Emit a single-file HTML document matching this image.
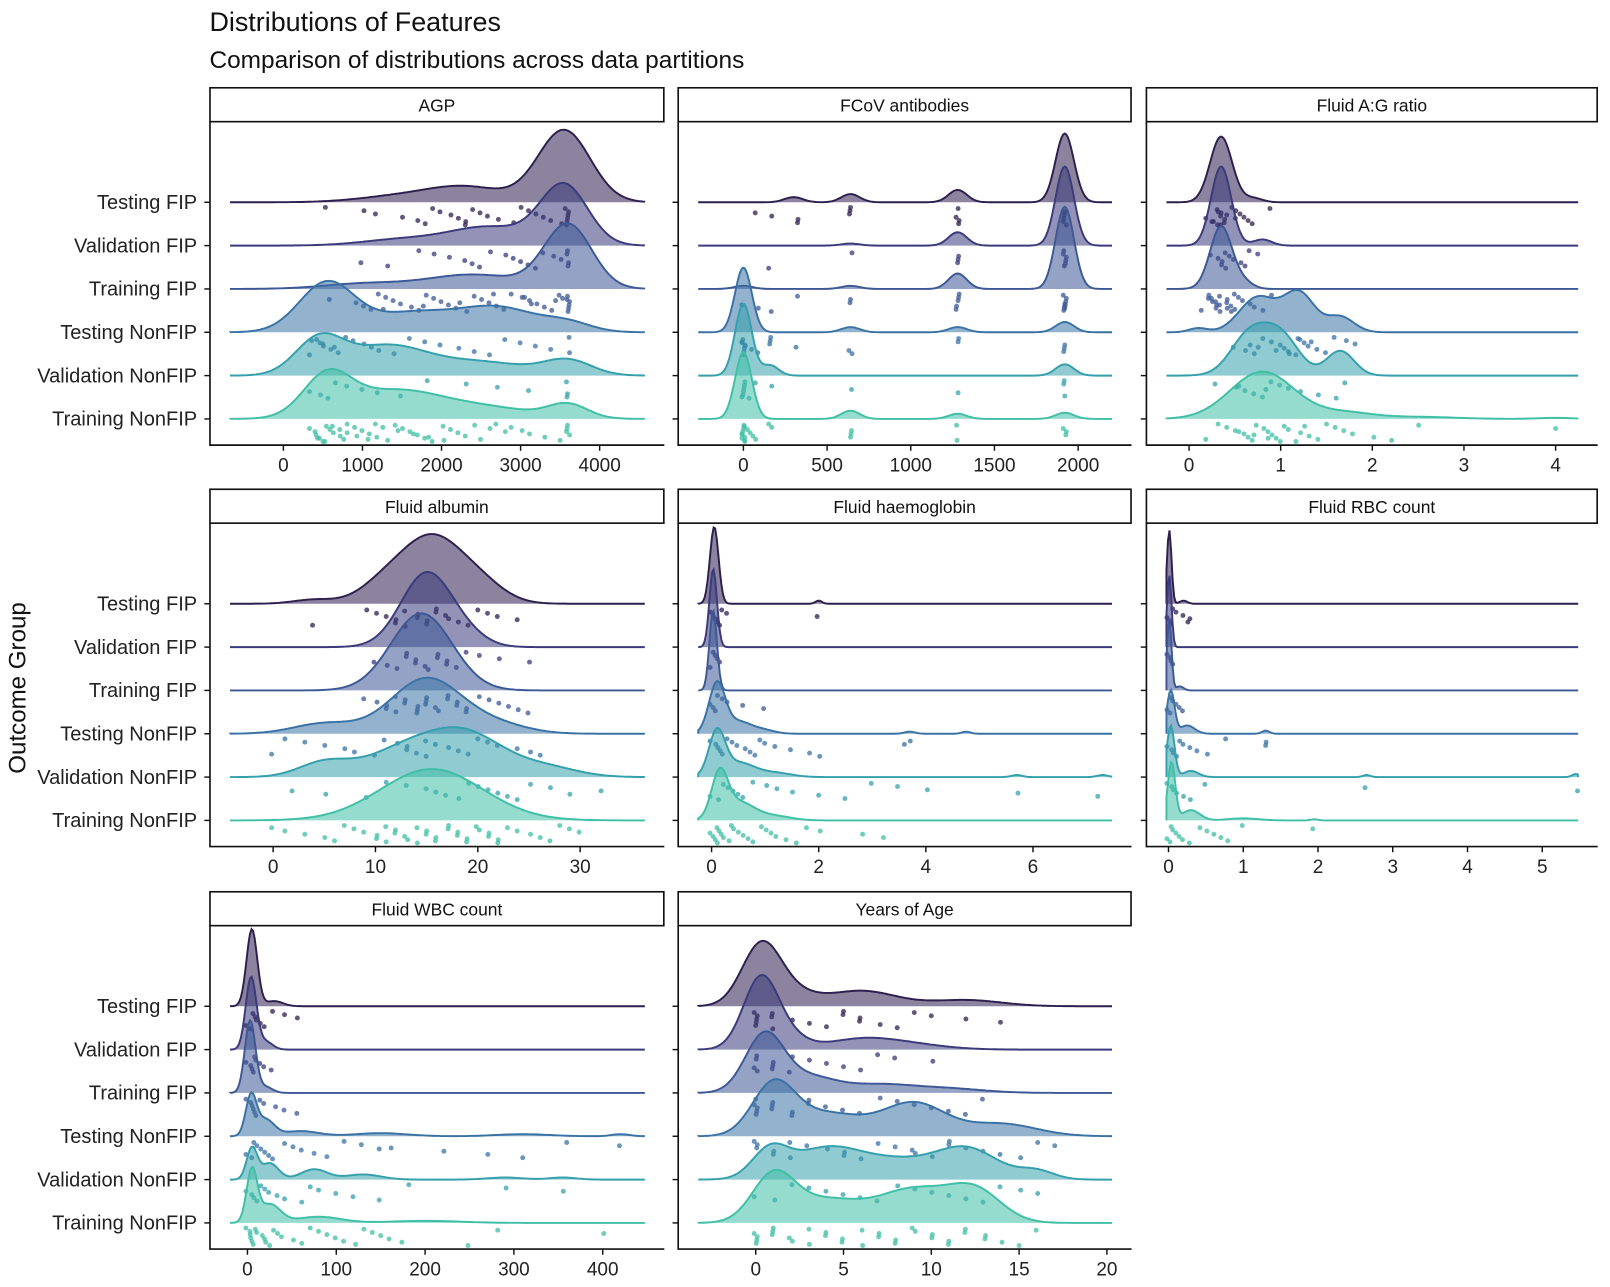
<!DOCTYPE html>
<html><head><meta charset="utf-8"><style>
body{margin:0;background:#fff}
svg text{font-family:"Liberation Sans",Arial,sans-serif}
</style></head><body>
<svg width="1610" height="1282" xmlns="http://www.w3.org/2000/svg">
<g id="chart" transform="scale(1.0268)">
<text x="204" y="30" font-size="26.2" fill="#111">Distributions of Features</text>
<text x="204" y="66" font-size="23.8" fill="#111">Comparison of distributions across data partitions</text>
<text transform="translate(25,670) rotate(-90)" text-anchor="middle" font-size="23.5" fill="#111">Outcome Group</text>
</g>
</svg>
<script>
const groups = ["Testing FIP","Validation FIP","Training FIP","Testing NonFIP","Validation NonFIP","Training NonFIP"];
const features = ["AGP","FCoV antibodies","Fluid A:G ratio","Fluid albumin","Fluid haemoglobin","Fluid RBC count","Fluid WBC count","Years of Age"];
const tickValues = [[0,1000,2000,3000,4000],[0,500,1000,1500,2000],[0,1,2,3,4],[0,10,20,30],[0,2,4,6],[0,1,2,3,4,5],[0,100,200,300,400],[0,5,10,15,20]];
// density components per feature per group: [center, sd, relative height]
const densAGP = [[[3550,330,70],[2300,500,15],[1400,500,5]],[[3550,300,58],[2600,500,18],[1500,500,6]],[[3600,300,62],[2400,600,14],[1000,500,5]],[[550,350,48],[1600,500,18],[2700,500,24],[3600,300,8]],[[450,300,34],[1300,500,28],[2500,600,13],[3600,300,14]],[[550,300,38],[1400,600,27],[2600,600,10],[3600,250,13]]];
const densFCoV = [[[1920,55,67],[1280,55,12],[640,55,8],[300,55,5]],[[1920,55,77],[1280,55,13],[640,55,2]],[[1920,55,80],[1280,55,15],[640,55,3],[0,55,3]],[[0,50,63],[640,55,5],[1280,55,5],[1920,55,10]],[[0,50,70],[160,50,10],[1920,55,11]],[[0,50,65],[640,55,8],[1280,55,5],[1920,55,6]]];
const densAG = [[[0.35,0.12,64],[0.7,0.1,4]],[[0.35,0.11,77],[0.8,0.1,6]],[[0.35,0.12,61],[0.6,0.1,6]],[[0.75,0.2,34],[1.2,0.17,38],[1.65,0.15,15],[0.1,0.1,4]],[[0.65,0.2,38],[1.0,0.2,38],[1.65,0.15,24]],[[0.8,0.35,46],[1.7,0.3,6],[2.5,0.4,2],[4,0.2,1]]];
const densAlb = [[[15.5,2.8,60],[11,2.5,20],[20,2.5,20],[4,2,4]],[[15,2.5,72],[19,2,8]],[[14.5,3,75]],[[15,3.5,54],[5,3,10],[22,3,8]],[[18.5,4,44],[12,3.5,20],[5,2.5,14],[27,3,8]],[[15.5,5,50]]];
const densHb = [[[0.05,0.08,75],[2,0.06,3]],[[0.03,0.07,76]],[[0.03,0.07,78]],[[0.1,0.15,48],[0.5,0.25,12],[1.0,0.2,3],[3.7,0.1,2],[4.75,0.08,2]],[[0.1,0.15,42],[0.5,0.3,14],[1.2,0.3,4],[5.7,0.1,2],[7.3,0.1,2]],[[0.15,0.15,42],[0.5,0.3,18],[1.2,0.3,4]]];
const densRBC = [[[0.01,0.03,72],[0.2,0.05,3]],[[0.01,0.03,70]],[[0.01,0.03,70],[0.15,0.05,4]],[[0.03,0.05,42],[0.25,0.1,8],[1.3,0.05,3]],[[0.03,0.05,50],[0.3,0.1,6],[2.65,0.05,2],[5.45,0.05,3]],[[0.04,0.05,56],[0.3,0.12,10],[1.0,0.2,2],[1.95,0.05,1]]];
const densWBC = [[[5,6,75],[30,10,5]],[[4,6,70],[20,8,8]],[[3,6,70],[20,8,6]],[[4,6,38],[20,10,16],[60,20,5],[150,30,3],[310,30,2],[420,10,2]],[[5,6,30],[25,10,16],[75,15,10],[130,20,5],[290,20,2],[355,15,2]],[[5,6,50],[25,12,18],[80,25,6],[200,40,2]]];
const densAge = [[[0.3,1.1,58],[2,1.3,12],[6,2,15],[12,2,6]],[[0.3,1.0,70],[2,1,10],[6,2,10],[9,2,4]],[[0.5,1.1,56],[3,1.5,15],[7,2,8],[11,2,4]],[[1,1.2,48],[4,2,22],[9,1.8,32],[14,2,12]],[[0.8,1,26],[4,2,30],[8,2,16],[12,1.8,30],[16,1,8]],[[1,1.2,44],[4,2,22],[9,2,32],[12.5,1.5,30]]];
// observed points per feature per group
const ptsAGP = [[550,1000,1150,1500,1700,1800,1900,2000,2100,2200,2300,2300,2400,2500,2600,2700,2900,3000,3100,3200,3300,3400,3500,3550,3600,3600,3600,3600,3600],[1000,1300,1700,1900,2100,2300,2400,2500,2600,2800,2900,3000,3100,3200,3300,3400,3500,3600,3600,3600,3600],[600,900,1000,1100,1200,1300,1400,1500,1600,1700,1800,1900,2000,2100,2200,2300,2400,2500,2600,2700,2800,2900,3000,3100,3200,3300,3400,3500,3550,3600,3600,3600,3600,3600,3600,2250,1750,1250,2650,3050,3450,3150],[350,400,450,500,600,700,800,900,1000,1100,1200,1400,1600,1800,2000,2200,2400,2600,2800,3000,3200,3400,3600,3600,350,500,650],[350,450,550,650,800,1000,1200,1500,1800,2300,2700,3100,3600,3600,3600],[350,380,400,450,500,550,600,650,700,750,800,900,1000,1100,1200,1300,1400,1500,1600,1700,1800,1900,2000,2100,2200,2300,2500,2700,2900,3000,3100,3300,3500,3600,3600,3600,3600,420,520,620,720,820,950,1050,1150,1250,1450,1650,1850,2050,2400,2600,2800]];
const ptsFCoV = [[80,160,320,320,640,640,640,1280,1280,1280,1280,1920,1920,1920,1920,1920],[160,640,1280,1280,1280,1920,1920,1920,1920,1920,1920],[0,80,160,320,640,640,1280,1280,1280,1280,1280,1920,1920,1920,1920,1920,1920,1920,1920],[0,0,0,0,0,0,0,20,40,80,160,160,160,320,640,640,1280,1280,1920,1920,1920],[0,0,0,0,0,0,40,80,160,640,1280,1920,1920,1920],[0,0,0,0,0,0,0,0,0,0,20,40,60,80,160,160,640,640,640,1280,1280,1920,1920,1920]];
const ptsAG = [[0.2,0.25,0.3,0.3,0.35,0.35,0.4,0.4,0.45,0.5,0.55,0.6,0.65,0.7,0.9,0.3,0.4,0.5,0.25,0.35],[0.25,0.3,0.35,0.35,0.4,0.4,0.45,0.5,0.55,0.6,0.65,0.75],[0.15,0.2,0.2,0.25,0.3,0.3,0.35,0.35,0.4,0.4,0.45,0.5,0.5,0.55,0.6,0.65,0.7,0.8,0.9,0.25,0.3,0.35,0.4,0.45],[0.5,0.6,0.7,0.8,0.9,1.0,1.05,1.1,1.15,1.2,1.25,1.3,1.4,1.5,1.6,1.7,1.8,0.75,0.95,1.1,1.2,1.35,0.65],[0.3,0.5,0.6,0.7,0.8,0.9,1.0,1.1,1.2,1.4,1.6,1.7,0.55,0.85],[0.2,0.3,0.4,0.5,0.6,0.65,0.7,0.75,0.8,0.85,0.9,0.95,1.0,1.05,1.1,1.2,1.3,1.4,1.5,1.6,1.7,1.8,2.0,2.2,2.5,4.0,0.55,0.72,0.88,1.15,1.25]];
const ptsAlb = [[4,9,10,11,12,12,13,13,14,14,15,15,16,16,17,17,18,19,20,21,22,24],[10,11,12,13,13,14,14,15,15,16,16,17,17,18,19,20,22,25],[9,10,11,11,12,12,13,13,14,14,14,15,15,15,16,16,17,17,18,18,19,19,20,21,22,23,24,25],[0,1,3,5,7,8,10,11,12,13,13,14,15,15,16,17,18,19,20,21,22,24,25,26],[2,5,9,11,13,15,16,17,18,19,20,21,22,23,24,25,27,32,29],[0,1,3,5,6,7,8,9,10,10,11,11,12,12,13,13,14,14,15,15,16,16,17,17,18,18,19,19,20,20,21,21,22,22,23,24,25,26,27,28,29,30]];
const ptsHb = [[0,0,0.05,0.1,0.15,0.2,0.3,2.0],[0,0,0.05,0.1,0.15],[0,0,0.05,0.1,0.2,0.3,0.6,1.0],[0,0.05,0.1,0.15,0.2,0.3,0.4,0.5,0.6,0.7,0.8,0.9,1.0,1.2,1.5,1.8,2.0,3.7,3.6],[0,0.1,0.2,0.3,0.4,0.5,0.6,0.8,1.0,1.2,1.5,2.0,2.5,3.0,3.5,4.0,5.7,7.2],[0,0,0.05,0.1,0.1,0.15,0.2,0.25,0.3,0.35,0.4,0.5,0.6,0.7,0.8,0.9,1.0,1.1,1.2,1.4,1.6,1.8,2.0,2.8,3.2]];
const ptsRBC = [[0,0,0.02,0.05,0.1,0.2,0.3,0.28],[0,0,0.02,0.05],[0,0,0.02,0.05,0.1,0.15,0.2],[0,0.02,0.05,0.1,0.15,0.2,0.3,0.4,0.5,0.75,1.3,1.3],[0,0.02,0.05,0.1,0.2,0.3,0.5,2.65,5.45],[0,0,0.02,0.05,0.1,0.15,0.2,0.3,0.4,0.5,0.6,0.7,0.8,1.0,1.95]];
const ptsWBC = [[0,2,5,8,10,15,20,30,40,55],[0,2,4,6,8,10,15,20,25],[0,2,4,6,8,10,15,20,30,40,55],[0,3,6,10,15,20,25,30,40,50,60,75,90,110,130,160,220,270,310,360,420,150],[0,3,6,10,15,20,25,35,40,60,70,80,100,120,150,180,290,355],[0,1,2,3,5,7,10,12,15,18,20,25,30,35,40,50,60,70,80,90,100,110,120,130,140,150,160,175,250,280,400]];
const ptsAge = [[0,0,0,0,0,1,1,1,2,3,4,5,5,6,6,7,8,9,10,12,14],[0,0,0,0,1,1,1,2,2,3,4,5,6,7,8,10],[0,0,0,0,0,1,1,1,2,2,3,3,4,5,6,7,8,9,10,11,12,13],[0,0,0,1,1,2,2,3,4,5,5,6,7,8,9,9,10,11,11,12,13,14,15,16,17],[0,1,2,3,4,5,6,7,8,9,10,11,12,13,14,15,16],[0,0,0,0,1,1,1,2,2,3,3,4,4,5,5,6,6,7,7,8,8,9,9,10,10,11,11,12,12,13,13,14,15,16]];

const allDens = [densAGP,densFCoV,densAG,densAlb,densHb,densRBC,densWBC,densAge];
const allPts = [ptsAGP,ptsFCoV,ptsAG,ptsAlb,ptsHb,ptsRBC,ptsWBC,ptsAge];
// layout: scale calibration [u0,p0,u1,p1] (pixel anchors)
const calib = [[0,276,4000,584],[0,724,2000,1050],[0,1158,4,1515],[0,266,30,565],[0,693,6,1006],[0,1138,5,1502],[0,241,400,587],[0,736,20,1078]];
const colX = [[204,647],[660,1102],[1116,1556]];
const rowY = [0,391,783];
const lineCol = ["#2d1f4e","#3a3a7c","#3d5896","#3a72a6","#34a0ac","#3fbfa6"];
const NS="http://www.w3.org/2000/svg";
const svg=document.getElementById('chart');
function mk(tag,attrs,parent){const e=document.createElementNS(NS,tag);for(const k in attrs)e.setAttribute(k,attrs[k]);(parent||svg).appendChild(e);return e;}
features.forEach((f,fi)=>{
  const col=fi%3,row=Math.floor(fi/3);
  const L=colX[col][0],R=colX[col][1],oy=rowY[row];
  const c=calib[fi];
  const sx=u=>c[1]+(u-c[0])*(c[3]-c[1])/(c[2]-c[0]);
  const inv=p=>c[0]+(p-c[1])*(c[2]-c[0])/(c[3]-c[1]);
  const g=mk('g',{});
  
  
  const strip=mk('rect',{x:L+0.5,y:85.5+oy,width:R-L-1,height:33,fill:'#fff',stroke:'#111','stroke-width':1.6},g);
  
  
  const st=mk('text',{x:(L+R)/2,y:108.5+oy,'text-anchor':'middle','font-size':17,fill:'#111'},g);
  st.textContent=f;
  
  
  const base=i=>197+oy+42.2*i;
  const x0=L+20,x1=R-19;
  groups.forEach((gr,gi)=>{
    const comps=allDens[fi][gi];
    let d='M'+x0+','+base(gi);
    for(let p=x0;p<=x1;p+=1.5){const u=inv(p);let h=0;comps.forEach(cm=>{h+=cm[2]*Math.exp(-0.5*Math.pow((u-cm[0])/cm[1],2));});d+=' L'+p.toFixed(1)+','+(base(gi)-h).toFixed(1);}
    d+=' L'+x1+','+base(gi);
    const area=mk('path',{d:d+' Z',fill:lineCol[gi],'fill-opacity':0.55,stroke:'none'},g);
    
    
    const ln=mk('path',{d:d,fill:'none',stroke:lineCol[gi],'stroke-width':1.9},g);
    
    
    allPts[fi][gi].forEach((v,k)=>{
      const jy=((k*37+gi*11+fi*5)%17)/16, jx=(((k*13+fi*7)%7)-3)*0.5;
      const pt=mk('circle',{cx:(sx(v)+jx).toFixed(1),cy:(base(gi)+5+jy*17).toFixed(1),r:2.4,fill:lineCol[gi],'fill-opacity':0.75},g);
      
      
    });
  });
  const ax=mk('path',{d:`M${L+0.5},${119+oy} V${433.5+oy} H${R}`,fill:'none',stroke:'#111','stroke-width':1.6},g);
  
  
  groups.forEach((gr,gi)=>{
    mk('line',{x1:L-5,x2:L,y1:base(gi),y2:base(gi),stroke:'#111','stroke-width':1.4},g);
    if(col===0){
      const yl=mk('text',{x:192,y:base(gi)+6.5,'text-anchor':'end','font-size':19.5,fill:'#222'},g);
      yl.textContent=gr;
      
      
    }
  });
  tickValues[fi].forEach(t=>{
    const px=sx(t);
    mk('line',{x1:px,x2:px,y1:433+oy,y2:439+oy,stroke:'#111','stroke-width':1.4},g);
    const tl=mk('text',{x:px,y:459+oy,'text-anchor':'middle','font-size':18.5,fill:'#222'},g);
    tl.textContent=t;
    
    
  });
});
</script>
</body></html>
